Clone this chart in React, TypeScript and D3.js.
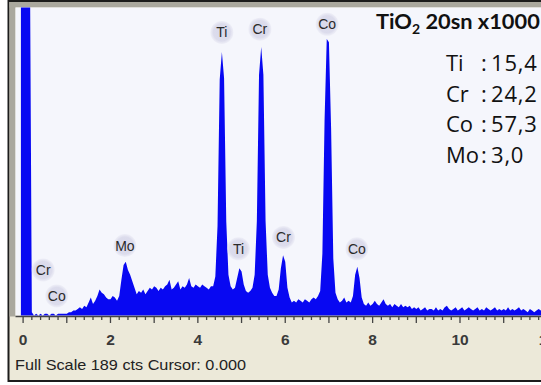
import React from "react";
import * as d3 from "d3";

const W = 541;
const H = 385;

// EDS spectrum: counts per channel, channels start at -0.05 keV, 0.05 keV wide
const energyStart = -0.05;
const energyStep = 0.05;
const counts: number[] = [
  // -0.05 .. 0.95
  260, 400, 400, 400, 250, 2, 0, 1, 0, 1, 0, 1, 1, 0, 1, 1, 0, 1, 1, 1, 1,
  // 1.00 .. 1.95
  1, 2, 2, 3, 3, 4, 5, 4, 6, 5, 8, 11, 7, 9, 12, 16, 14, 13, 11, 10,
  // 2.00 .. 2.95
  10, 12, 11, 9, 12, 22, 31, 33, 28, 25, 21, 17, 13, 15, 14, 16, 13, 15, 17, 16,
  // 3.00 .. 3.95
  18, 17, 15, 17, 16, 18, 19, 22, 16, 17, 19, 21, 16, 18, 17, 19, 23, 18, 17, 19,
  // 4.00 .. 4.95
  18, 17, 19, 18, 17, 16, 18, 18, 24, 55, 145, 162, 146, 58, 25, 18, 16, 17, 23, 29,
  // 5.00 .. 5.95
  27, 19, 15, 14, 15, 17, 25, 58, 148, 165, 148, 58, 25, 17, 14, 12, 12, 16, 29, 37,
  // 6.00 .. 6.95
  33, 17, 11, 8, 9, 8, 10, 9, 8, 10, 9, 8, 10, 11, 10, 12, 15, 38, 120, 170,
  // 7.00 .. 7.95
  168, 115, 35, 14, 10, 8, 9, 11, 8, 9, 8, 12, 25, 30, 23, 11, 7, 6, 8, 6,
  // 8.00 .. 8.95
  7, 9, 7, 6, 8, 10, 7, 6, 7, 5, 7, 6, 5, 7, 5, 6, 5, 6, 4, 5,
  // 9.00 .. 9.95
  4, 5, 3, 4, 5, 3, 4, 4, 3, 5, 3, 4, 3, 5, 6, 4, 3, 4, 5, 3,
  // 10.00 .. 10.95
  4, 5, 3, 4, 5, 4, 3, 4, 5, 3, 4, 3, 5, 4, 3, 4, 5, 3, 4, 3,
  // 11.00 .. 11.95
  4, 3, 5, 3, 4, 3, 4, 5, 3, 4, 3, 2, 4, 3, 2, 3, 4, 3, 4, 3,
];

const fullScale = 189;
const energyMax = 12;
const axisLabels = [0, 2, 4, 6, 8, 10, 12];

// Peak identification markers: element, energy (keV), marker height (cts)
const peakElements = ["Ti", "Cr", "Co", "Mo", "Ti", "Cr", "Co", "Cr", "Co"];
const peakEnergies = [4.55, 5.42, 6.96, 2.33, 4.93, 5.96, 7.64, 0.46, 0.77];
const peakMarkerCounts = [174, 176, 179, 43, 41, 48, 41, 28, 12];

// Sample name and composition
const sampleBase = "TiO";
const sampleSub = "2";
const sampleRest = " 20sn x1000";
const compElements = ["Ti", "Cr", "Co", "Mo"];
const compValues = ["15,4", "24,2", "57,3", "3,0"];

const statusText = "Full Scale 189 cts Cursor: 0.000";

const plot = { left: 15.5, top: 7.5, right: 541, base: 315.5 };

export default function App() {
  const x = d3
    .scaleLinear()
    .domain([0, energyMax])
    .range([23.1, 23.1 + 43.69 * energyMax]);
  const y = d3.scaleLinear().domain([0, fullScale]).range([plot.base, 8]);

  const pts = counts.map((c, i) => [energyStart + i * energyStep, c] as [number, number]);
  const area = d3
    .area<[number, number]>()
    .x((d) => x(d[0]))
    .y0(y(0))
    .y1((d) => y(d[1]))
    .curve(d3.curveLinear);

  const minorTicks = d3.range(0, energyMax + 0.001, 0.2);

  const uiFont = "'Liberation Sans', Arial, sans-serif";
  const titleFont = "Lato, 'Open Sans', sans-serif";
  const compFont = "'Open Sans', Lato, sans-serif";

  return (
    <svg
      width={W}
      height={H}
      style={{ position: "absolute", left: 0, top: 0, display: "block", background: "#fff" }}
    >
      <defs>
        <clipPath id="plotClip">
          <rect x={plot.left} y={plot.top} width={plot.right - plot.left} height={plot.base - plot.top + 1} />
        </clipPath>
        <radialGradient id="badge">
          <stop offset="0%" stopColor="#d9d9eb" />
          <stop offset="75%" stopColor="#dcdcec" />
          <stop offset="100%" stopColor="#e6e6f2" stopOpacity={0.5} />
        </radialGradient>
      </defs>

      {/* window panel */}
      <rect x={8.5} y={1} width={540} height={380} fill="#ece9d9" stroke="#1c1c1c" strokeWidth={2} />
      {/* sunken border of the plot */}
      <rect x={9.5} y={2} width={W} height={plot.top - 2} fill="#aaa89e" />
      <rect x={9.5} y={2} width={plot.left - 9.5} height={plot.base - 1} fill="#aaa89e" />
      <rect x={plot.left} y={plot.top} width={plot.right - plot.left} height={plot.base - plot.top} fill="#f5f6fc" />

      {/* spectrum */}
      <g clipPath="url(#plotClip)">
        <path d={area(pts) ?? ""} fill="#0808f2" />
      </g>

      {/* energy axis */}
      <line x1={plot.left} x2={W} y1={316.5} y2={316.5} stroke="#444" strokeWidth={1.5} />
      {minorTicks.map((t, i) => {
        const major = Math.abs(t - Math.round(t)) < 1e-6;
        return (
          <line
            key={i}
            x1={x(t)}
            x2={x(t)}
            y1={316.5}
            y2={major ? 323 : 320}
            stroke="#444"
            strokeWidth={1.3}
          />
        );
      })}
      {axisLabels.map((t) => (
        <text
          key={t}
          x={x(t)}
          y={345}
          textAnchor="middle"
          fontFamily={uiFont}
          fontWeight="bold"
          fontSize={15.5}
          fill="#3a3a3a"
        >
          {t}
        </text>
      ))}
      <text
        x={15}
        y={370}
        fontFamily={uiFont}
        fontSize={14.5}
        fill="#222"
        textLength={231}
        lengthAdjust="spacingAndGlyphs"
      >
        {statusText}
      </text>

      {/* peak markers */}
      {peakElements.map((el, i) => (
        <g key={i}>
          <circle cx={x(peakEnergies[i])} cy={y(peakMarkerCounts[i])} r={11.5} fill="url(#badge)" />
          <text
            x={x(peakEnergies[i])}
            y={y(peakMarkerCounts[i]) + 5}
            textAnchor="middle"
            fontFamily={uiFont}
            fontSize={14}
            fill="#2a2a2a"
          >
            {el}
          </text>
        </g>
      ))}

      {/* sample name */}
      <text x={376} y={29} fontFamily={titleFont} fontWeight="bold" fontSize={21.8} fill="#111">
        {sampleBase}
        <tspan fontSize={14} dy={5}>{sampleSub}</tspan>
        <tspan dy={-5}>{sampleRest}</tspan>
      </text>

      {/* composition */}
      {compElements.map((el, i) => (
        <g key={el} fontFamily={compFont} fontSize={22} fill="#111">
          <text x={446} y={71 + i * 30.5}>{el}</text>
          <text x={481} y={71 + i * 30.5}>:</text>
          <text x={491} y={71 + i * 30.5} letterSpacing={0.8}>{compValues[i]}</text>
        </g>
      ))}
    </svg>
  );
}
